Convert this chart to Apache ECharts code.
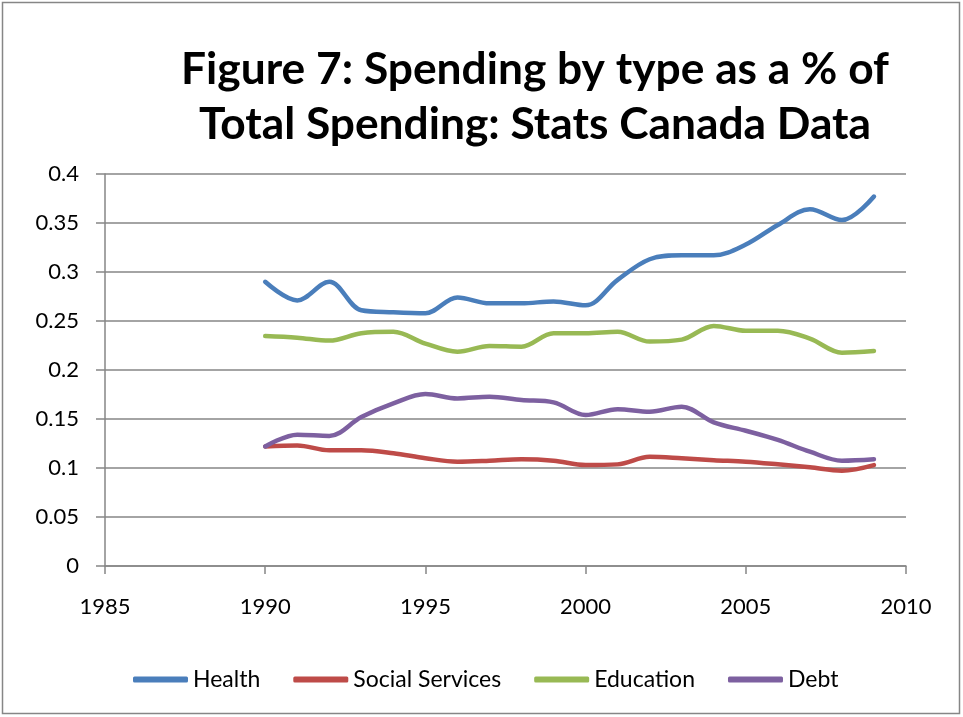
<!DOCTYPE html>
<html>
<head>
<meta charset="utf-8">
<script src="https://cdn.jsdelivr.net/npm/echarts@6/dist/echarts.min.js"></script>
<style>
  html, body { margin: 0; padding: 0; background: #fff; }
  #chart { width: 963px; height: 717px; }
</style>
</head>
<body>
<div id="chart"></div>
<script>
// Spending shares by type, 1990-2009
const years = [1990, 1991, 1992, 1993, 1994, 1995, 1996, 1997, 1998, 1999,
               2000, 2001, 2002, 2003, 2004, 2005, 2006, 2007, 2008, 2009];
const health = [0.290, 0.271, 0.290, 0.261, 0.259, 0.258, 0.274, 0.268, 0.268, 0.270,
                0.266, 0.292, 0.313, 0.317, 0.317, 0.328, 0.348, 0.364, 0.353, 0.377];
const socialServices = [0.122, 0.123, 0.118, 0.118, 0.115, 0.110, 0.1065, 0.1075, 0.109, 0.1075,
                        0.103, 0.1037, 0.1115, 0.110, 0.108, 0.1065, 0.1038, 0.1007, 0.0973, 0.103];
const education = [0.2347, 0.233, 0.230, 0.2375, 0.239, 0.227, 0.2187, 0.2245, 0.2238, 0.2375,
                   0.2375, 0.239, 0.229, 0.231, 0.245, 0.240, 0.240, 0.232, 0.2177, 0.2194];
const debt = [0.122, 0.134, 0.1327, 0.152, 0.166, 0.1755, 0.171, 0.1727, 0.1694, 0.167,
              0.154, 0.160, 0.1575, 0.1626, 0.1466, 0.138, 0.1286, 0.1166, 0.1075, 0.109];
const seriesNames = ['Health', 'Social Services', 'Education', 'Debt'];
const seriesColors = ['#4A7EBB', '#BE4B48', '#98B954', '#7D60A0'];
const titleText = 'Figure 7: Spending by type as a % of\nTotal Spending: Stats Canada Data';

const FONT = 'Lato, "Open Sans", sans-serif';
const pair = vals => years.map((y, i) => [y, vals[i]]);
const allValues = [health, socialServices, education, debt];

const chart = echarts.init(document.getElementById('chart'), null, { renderer: 'canvas' });
chart.setOption({
  animation: false,
  backgroundColor: '#ffffff',
  graphic: [{
    type: 'rect',
    shape: { x: 2.5, y: 2.5, width: 957, height: 711 },
    style: { fill: 'none', stroke: '#868686', lineWidth: 1.5 },
    silent: true
  }],
  title: {
    text: titleText,
    left: 530,
    top: 37,
    textAlign: 'center',
    textStyle: { fontFamily: FONT, fontSize: 44.3, fontWeight: 'bold', lineHeight: 55, color: '#000' }
  },
  legend: {
    data: seriesNames,
    left: 128,
    top: 663,
    itemWidth: 55,
    itemHeight: 6,
    itemGap: 33,
    icon: 'roundRect',
    textStyle: { fontFamily: FONT, fontSize: 23, color: '#000' }
  },
  grid: { left: 105, right: 57, top: 174, bottom: 151, containLabel: false },
  xAxis: {
    type: 'value',
    min: 1985, max: 2010, interval: 5,
    axisLine: { show: true, lineStyle: { color: '#868686', width: 1.5 } },
    axisTick: { show: true, length: 8, lineStyle: { color: '#868686', width: 1.5 } },
    splitLine: { show: false },
    axisLabel: { margin: 30, fontFamily: FONT, fontSize: 22, color: '#000', formatter: v => String(v) }
  },
  yAxis: {
    type: 'value',
    min: 0, max: 0.4, interval: 0.05,
    axisLine: { show: true, lineStyle: { color: '#868686', width: 1.5 } },
    axisTick: { show: true, length: 9, lineStyle: { color: '#868686', width: 1.5 } },
    splitLine: { show: true, lineStyle: { color: '#868686', width: 1.5 } },
    axisLabel: { margin: 26, fontFamily: FONT, fontSize: 22, color: '#000',
                 formatter: v => String(+v.toFixed(2)) }
  },
  series: seriesNames.map((name, i) => ({
    name,
    type: 'line',
    data: pair(allValues[i]),
    smooth: 0.35,
    showSymbol: false,
    symbol: 'none',
    lineStyle: { width: 4.5, color: seriesColors[i], cap: 'round', join: 'round' },
    itemStyle: { color: seriesColors[i] }
  }))
});
</script>
</body>
</html>
